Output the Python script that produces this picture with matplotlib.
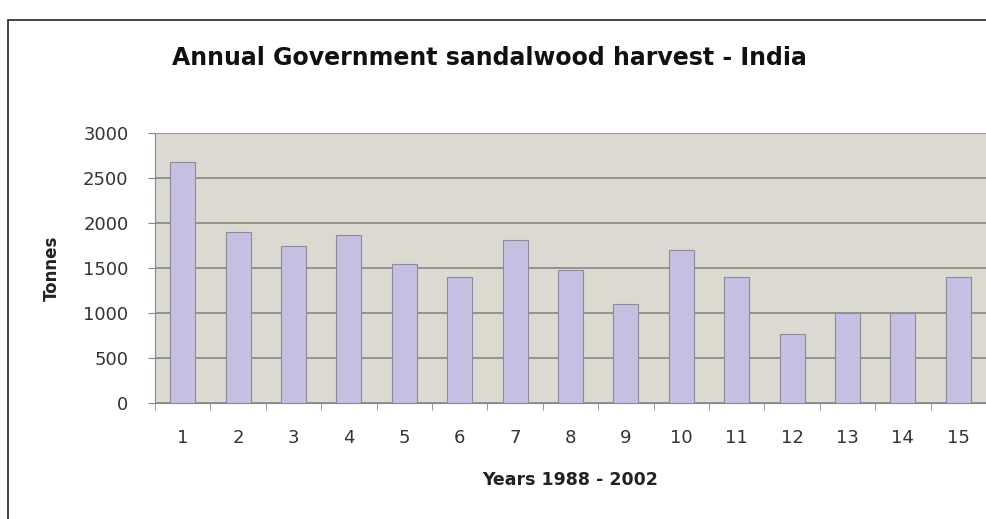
import numpy as np
import matplotlib.pyplot as plt
from matplotlib.patches import Rectangle

plt.rcParams['font.family'] = ['DejaVu Sans']

# harvest per year
years = list(range(1, 16))
tonnes = [2680, 1900, 1750, 1870, 1550, 1400, 1810, 1480, 1100, 1700, 1400, 770, 1000, 1000, 1400]

fig = plt.figure(figsize=(9.86, 5.19), dpi=100)
fig.patch.set_facecolor('white')

# outer frame of the chart object
fig.add_artist(Rectangle((8/986, -0.1), 1.2, (519 - 20)/519 + 0.1, transform=fig.transFigure,
                         fill=False, edgecolor='#222222', linewidth=1.2))

ax = fig.add_axes([155/986, (519 - 403)/519, (986 - 155)/986, 270/519])
ax.set_facecolor('#dcd9d2')

x = np.arange(len(years))
ax.bar(x, tonnes, width=0.45, color='#c5c0e2', edgecolor='#8c8a98', linewidth=0.8, zorder=3)

ax.set_ylim(0, 3000)
ax.set_xlim(-0.5, len(years) - 0.5)
ax.set_yticks(range(0, 3001, 500))
ax.yaxis.grid(True, color='#808080', linewidth=1.1, zorder=1)

# labels centred under bars, tick marks between categories
ax.set_xticks(x)
ax.set_xticklabels([str(y) for y in years], fontsize=13, color='#333333')
ax.set_xticks(np.arange(-0.5, len(years), 1), minor=True)
ax.tick_params(axis='x', which='major', length=0, pad=19)
ax.tick_params(axis='x', which='minor', length=5, color='#888888')
ax.tick_params(axis='y', length=5, color='#888888', labelsize=13, labelcolor='#333333', pad=14)

for s in ['top', 'right']:
    ax.spines[s].set_visible(False)
ax.spines['left'].set_color('#888888')
ax.spines['bottom'].set_color('#888888')

ax.set_ylabel('Tonnes', fontsize=12, fontweight='bold', labelpad=16, color='#222222')
ax.set_xlabel('Years 1988 - 2002', fontsize=12.5, fontweight='bold', labelpad=17, color='#222222')

fig.text(489/986, 1 - 58/519, 'Annual Government sandalwood harvest - India',
         ha='center', va='center', fontsize=17, fontweight='bold', color='#111111')

fig.savefig('out.png', dpi=100)
